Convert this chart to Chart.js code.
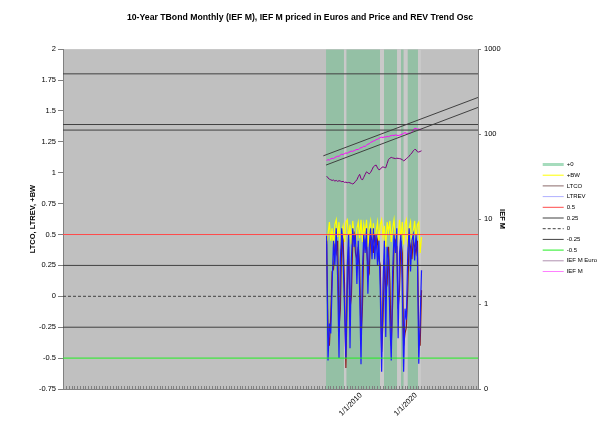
<!DOCTYPE html>
<html>
<head>
<meta charset="utf-8">
<script src="https://cdn.jsdelivr.net/npm/chart.js@4.4.0/dist/chart.umd.min.js"></script>
<style>
  html, body { margin: 0; padding: 0; background: #fff; }
</style>
</head>
<body>
<canvas id="chart" width="600" height="436"></canvas>
<script>
// x axis runs in decimal years
const xMin = 1955.82, xMax = 2031.27;
const labelYears = [2010, 2020];

// quarterly samples, late 2003 .. early 2021
const quarters = Array.from({length: 70}, (_, i) => 2003.75 + i * 0.25);

const ltrev = [0.49, -0.52, -0.22, -0.30, 0.10, 0.45, 0.25, 0.55, 0.15, -0.50,
  0.30, 0.55, 0.30, -0.10, -0.50, 0.25, 0.50, -0.42, 0.30, 0.55,
  0.40, 0.50, 0.10, 0.45, 0.05, -0.55, 0.20, 0.50, 0.35, 0.55,
  0.02, 0.40, 0.55, 0.30, 0.55, 0.30, 0.50, 0.25, 0.45, 0.05,
  -0.61, 0.10, 0.45, -0.33, 0.40, 0.30, -0.20, -0.52, 0.20, 0.50,
  0.35, 0.55, -0.34, 0.35, 0.50, 0.10, -0.61, -0.10, -0.19, 0.35,
  0.55, 0.20, 0.45, 0.50, 0.29, 0.50, 0.35, -0.545, -0.20, 0.21];

const ltco = [0.45, -0.30, -0.40, -0.15, 0.20, 0.22, 0.40, 0.35, 0.45, -0.25,
  -0.10, 0.50, 0.45, 0.10, -0.58, 0.05, 0.40, -0.10, 0.00, 0.45,
  0.50, 0.35, 0.30, 0.40, 0.25, -0.35, -0.10, 0.40, 0.45, 0.40,
  0.25, 0.20, 0.50, 0.45, 0.35, 0.50, 0.40, 0.45, 0.30, 0.25,
  -0.45, -0.20, 0.30, 0.05, 0.10, 0.40, 0.10, -0.40, -0.05, 0.40,
  0.45, 0.40, -0.10, 0.05, 0.45, 0.35, -0.40, -0.30, -0.25, 0.05,
  0.45, 0.40, 0.30, 0.45, 0.40, 0.35, 0.45, -0.30, -0.40, 0.05];

const bw = [0.42, 0.50, 0.60, 0.45, 0.55, 0.40, 0.58, 0.62, 0.48, 0.60,
  0.38, 0.52, 0.57, 0.44, 0.60, 0.62, 0.46, 0.58, 0.42, 0.61,
  0.50, 0.36, 0.55, 0.60, 0.47, 0.62, 0.44, 0.58, 0.50, 0.62,
  0.40, 0.55, 0.61, 0.45, 0.59, 0.38, 0.52, 0.60, 0.45, 0.58,
  0.62, 0.48, 0.57, 0.40, 0.60, 0.52, 0.61, 0.44, 0.55, 0.62,
  0.47, 0.36, 0.50, 0.62, 0.45, 0.60, 0.42, 0.58, 0.62, 0.40,
  0.55, 0.60, 0.38, 0.52, 0.61, 0.46, 0.58, 0.60, 0.35, 0.48];

const iefM = [49, 50, 49.5, 51, 52, 51.5, 53, 54, 55, 54.5,
  57, 58, 57.5, 59, 60, 59.5, 61, 62, 63, 62.5,
  64, 65, 66, 65.5, 68, 69, 70, 72, 71.5, 74,
  76, 77, 80, 81, 83, 84, 86, 87, 89, 91,
  92, 91, 93, 92, 94, 93, 95, 96, 97, 96,
  98, 97, 96, 97, 98, 100, 102, 104, 102, 101,
  103, 102, 106, 112, 117, 116, 114, 115, 113, 114];

const iefEuro = [32, 30.5, 29.5, 29, 28.5, 28.8, 28, 28.5, 27.8, 28.3,
  28, 27.5, 27.8, 27, 27.2, 26.8, 27, 26.7, 26.3, 25.9,
  26.5, 27.8, 29, 31.5, 33.6, 30, 28.8, 31, 33.5, 36,
  35, 34, 35.5, 38, 41.2, 42.5, 43.2, 40, 38, 38.5,
  40.5, 41.2, 40.5, 40.1, 45, 50.4, 52, 53.2, 52.5, 52,
  51.5, 52, 51.8, 51.5, 51, 50, 48.5, 49.5, 51.5, 53,
  55, 57.7, 60, 63.6, 66, 65.5, 62, 61.5, 62.5, 63.6];

// "+0" periods, and the short breaks between them
const zeroStarts = [2003.64, 2007.36, 2014.18, 2017.27, 2018.5];
const zeroEnds = [2006.9, 2013.45, 2016.55, 2017.73, 2020.36];
const gapStarts = [2006.9, 2013.45, 2016.55, 2017.73, 2020.36];
const gapEnds = [2007.36, 2014.18, 2017.27, 2018.5, 2020.95];

// oscillator reference levels
const refLevels = [0.5, 0.25, 0, -0.25, -0.5];
const refColors = ['#ff4a4a', '#404040', '#404040', '#404040', '#22ee22'];
const upperLevels = [1.8, 1.39, 1.345];

// price trend channel (IEF M axis)
const trendUpperX = [2003.15, 2031.27], trendUpper = [55.5, 270];
const trendLowerX = [2003.64, 2031.27], trendLower = [43.2, 206];

const FONT = 'Arial, "Liberation Sans", sans-serif';
Chart.defaults.font.family = FONT;

const pts = arr => quarters.map((x, i) => ({x: x, y: arr[i]}));
const flat = v => [{x: xMin, y: v}, {x: xMax, y: v}];

// full-height blocks between the given start/end years
function blocks(starts, ends) {
  const out = [];
  starts.forEach((s, i) => {
    out.push({x: s, y: -0.75}, {x: s, y: 2}, {x: ends[i], y: 2}, {x: ends[i], y: -0.75});
  });
  return out;
}

const datasets = [
  {label: '+0', data: blocks(zeroStarts, zeroEnds), fill: 'start', backgroundColor: '#94c0a5',
    borderColor: 'rgba(0,0,0,0)', borderWidth: 0, legendColor: '#a6dcbd', legendWidth: 3},
  {label: '+BW', data: pts(bw), borderColor: '#ffff00', borderWidth: 1.2},
  {label: 'LTCO', data: pts(ltco), borderColor: '#8b1c1c', borderWidth: 1.2, legendColor: '#8a6a6a'},
  {label: 'LTREV', data: pts(ltrev), borderColor: '#1a1aff', borderWidth: 1.2, legendColor: '#b0b0ff'}
];
refLevels.forEach((v, i) => {
  datasets.push({label: String(v), data: flat(v), borderColor: refColors[i], borderWidth: 1,
    borderDash: v === 0 ? [3, 2] : undefined});
});
datasets.push({label: 'IEF M Euro', data: pts(iefEuro), yAxisID: 'y2', borderColor: '#800080', borderWidth: 1, legendColor: '#b090b0'});
datasets.push({label: 'IEF M', data: pts(iefM), yAxisID: 'y2', borderColor: '#ff00ff', borderWidth: 1, legendColor: '#ff80ff'});
upperLevels.forEach(v => {
  datasets.push({label: 'h' + v, data: flat(v), borderColor: '#404040', borderWidth: 1, noLegend: true});
});
datasets.push({label: 'tu', data: trendUpperX.map((x, i) => ({x: x, y: trendUpper[i]})), yAxisID: 'y2', borderColor: '#404040', borderWidth: 1, noLegend: true});
datasets.push({label: 'tl', data: trendLowerX.map((x, i) => ({x: x, y: trendLower[i]})), yAxisID: 'y2', borderColor: '#404040', borderWidth: 1, noLegend: true});
datasets.push({label: 'gaps', data: blocks(gapStarts, gapEnds), fill: 'start', backgroundColor: '#c9c9c9',
  borderColor: 'rgba(0,0,0,0)', borderWidth: 0, noLegend: true, order: 200});

// later series sit on top, as in the original
datasets.forEach((d, i) => {
  if (d.order === undefined) d.order = 100 - i;
  d.pointRadius = 0;
  d.yAxisID = d.yAxisID || 'y';
  if (d.fill === undefined) d.fill = false;
});

const plotBg = {
  id: 'plotBg',
  beforeDraw(chart) {
    const {ctx, chartArea: a} = chart;
    ctx.save();
    ctx.fillStyle = '#fff';
    ctx.fillRect(0, 0, chart.width, chart.height);
    ctx.fillStyle = '#c0c0c0';
    ctx.fillRect(a.left, a.top, a.right - a.left, a.bottom - a.top);
    ctx.restore();
  }
};

new Chart(document.getElementById('chart'), {
  type: 'line',
  data: {datasets: datasets},
  plugins: [plotBg],
  options: {
    responsive: false,
    animation: false,
    devicePixelRatio: 1,
    layout: {padding: 0},
    plugins: {
      title: {
        display: true,
        text: '10-Year TBond Monthly (IEF M), IEF M priced in Euros and Price and REV Trend Osc',
        font: {size: 8.7, weight: 'bold', family: FONT},
        color: '#000',
        padding: {top: 12, bottom: 26.7}
      },
      legend: {
        position: 'right',
        maxWidth: 62,
        labels: {
          font: {size: 6, family: FONT},
          color: '#000',
          padding: 4.7,
          usePointStyle: true,
          pointStyleWidth: 21,
          boxHeight: 6,
          generateLabels: chart => chart.data.datasets
            .map((d, i) => ({
              text: d.label, datasetIndex: i, hidden: false, pointStyle: 'line',
              strokeStyle: d.legendColor || d.borderColor, fillStyle: d.legendColor || d.borderColor,
              lineWidth: d.legendWidth || 1, lineDash: d.borderDash || [], fontColor: '#000',
              noLegend: d.noLegend
            }))
            .filter(it => !it.noLegend)
        }
      },
      tooltip: {enabled: false}
    },
    scales: {
      x: {
        type: 'linear',
        min: xMin, max: xMax,
        afterBuildTicks: scale => {
          const t = [];
          for (let y = 1956; y <= 2031; y += 0.5) t.push({value: y});
          scale.ticks = t;
        },
        afterFit: scale => { scale.height = 47; },
        ticks: {
          autoSkip: false, minRotation: 45, maxRotation: 45, padding: 5,
          color: '#000', font: {size: 7.5, family: FONT},
          callback: v => labelYears.includes(v) ? '1/1/' + v : ''
        },
        // inside tick marks, drawn over the shaded periods
        grid: {drawOnChartArea: false, drawTicks: true, tickLength: -3, color: '#808080', z: 1},
        border: {color: '#808080', z: 1}
      },
      y: {
        position: 'left',
        min: -0.75, max: 2,
        afterFit: scale => { scale.width = 63; },
        ticks: {
          stepSize: 0.25, padding: 2, color: '#000', font: {size: 7.5, family: FONT},
          callback: v => String(+v.toFixed(2))
        },
        grid: {drawOnChartArea: false, drawTicks: true, tickLength: 5, color: '#808080'},
        border: {color: '#808080'},
        title: {display: true, text: 'LTCO, LTREV, +BW', color: '#000',
          font: {size: 7.5, weight: 'bold', family: FONT}, padding: {top: 28.5, bottom: 0}}
      },
      y2: {
        type: 'logarithmic',
        position: 'right',
        min: 0.1, max: 1000,
        afterBuildTicks: scale => {
          scale.ticks = [0.1, 1, 10, 100, 1000].map(v => ({value: v}));
        },
        afterFit: scale => { scale.width = 60; },
        ticks: {
          padding: 3, color: '#000', font: {size: 7.5, family: FONT},
          callback: v => v < 1 ? '0' : String(v)
        },
        grid: {drawOnChartArea: false, drawTicks: true, tickLength: 3, color: '#808080'},
        border: {color: '#808080'},
        title: {display: true, text: 'IEF M', color: '#000',
          font: {size: 7.5, weight: 'bold', family: FONT}, padding: {top: 31.5, bottom: 0}}
      }
    }
  }
});
</script>
</body>
</html>
